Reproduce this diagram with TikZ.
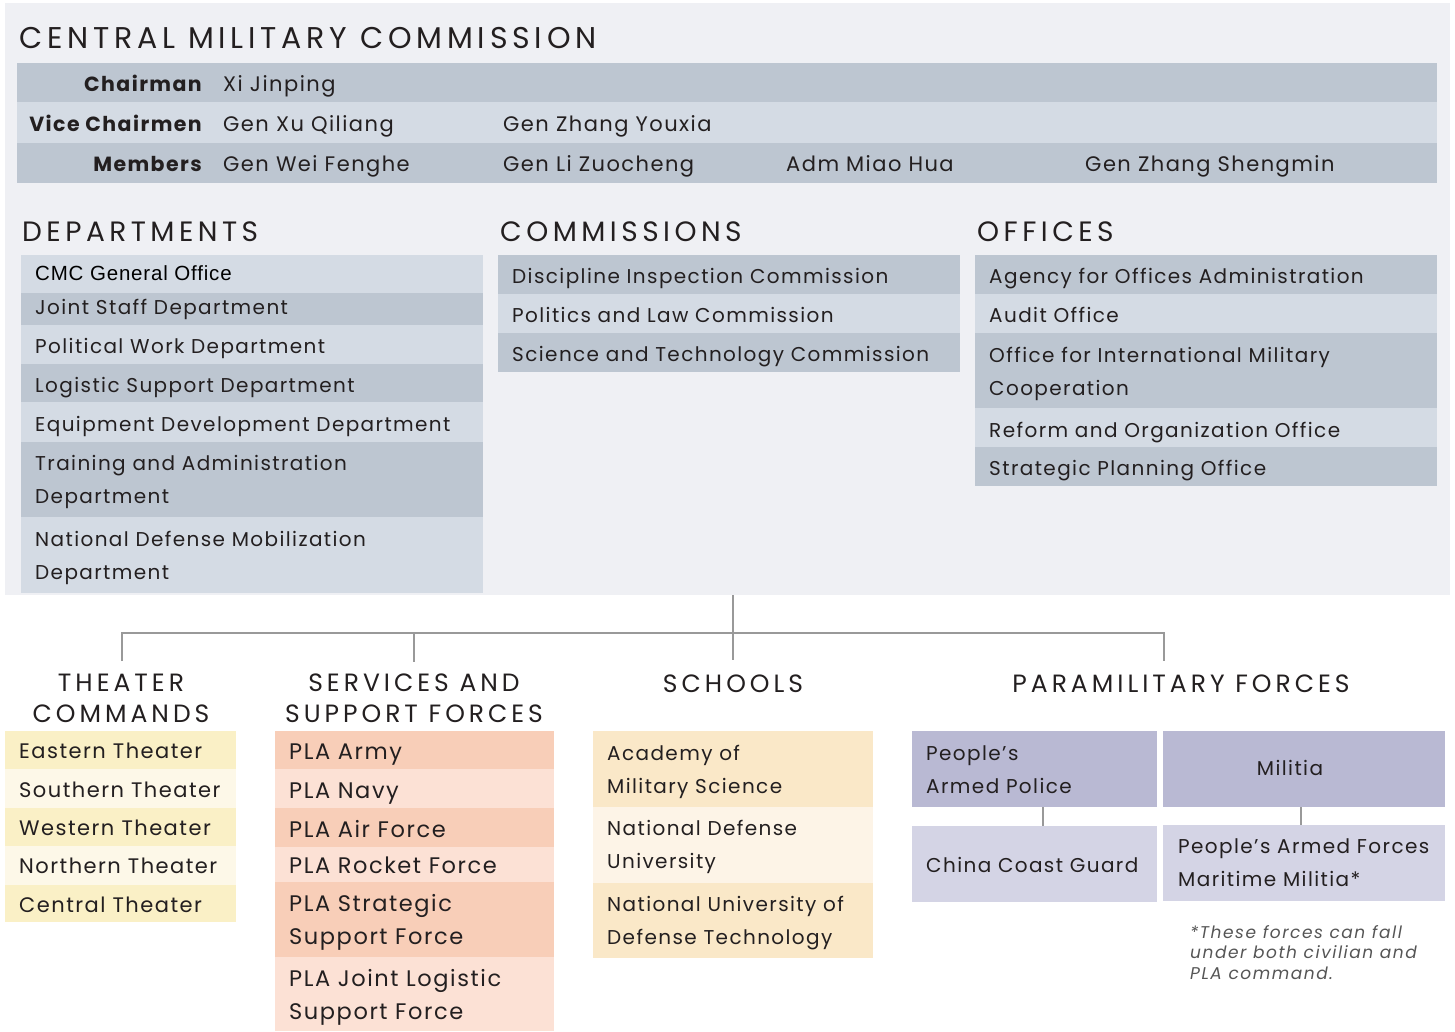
\documentclass[tikz,border=0pt]{standalone}
\usepackage{fontspec}
\setmainfont{Poppins}
\newfontfamily\bodyfont[LetterSpace=7]{Poppins}
\newfontfamily\headfont[LetterSpace=16]{Poppins}
\newfontfamily\arialfont[LetterSpace=4]{Liberation Sans}
\newfontfamily\notefont[LetterSpace=9]{Poppins}
\definecolor{ink}{HTML}{231F20}
\definecolor{panelbg}{HTML}{EFF0F4}
\definecolor{bgdark}{HTML}{BDC6D1}
\definecolor{bglight}{HTML}{D4DBE4}
\definecolor{ydark}{HTML}{FAF0C6}
\definecolor{ylight}{HTML}{FDF8E8}
\definecolor{odark}{HTML}{F8CEB8}
\definecolor{olight}{HTML}{FCE1D5}
\definecolor{sdark}{HTML}{FAE8C8}
\definecolor{slight}{HTML}{FDF4E7}
\definecolor{pdark}{HTML}{B9B9D3}
\definecolor{plight}{HTML}{D4D4E5}
\definecolor{conncol}{HTML}{999999}
\definecolor{notecol}{HTML}{555555}
\begin{document}
\begin{tikzpicture}[x=1pt,y=-1pt,
  box/.style={anchor=north west, inner sep=0pt, outer sep=0pt, draw=none},
  txt/.style={anchor=base west, inner sep=0pt, align=left, text=ink,
    font=\bodyfont\fontsize{20}{32.5}\selectfont},
  ctxt/.style={txt, font=\bodyfont\fontsize{21}{32.5}\selectfont},
  thtxt/.style={txt, font=\bodyfont\fontsize{21}{32.5}\selectfont},
  svtxt/.style={txt, font=\bodyfont\fontsize{22.5}{32.5}\selectfont},
  lbl/.style={anchor=base east, inner sep=0pt, text=ink,
    font=\bfseries\bodyfont\fontsize{20.5}{24}\selectfont},
  head/.style={anchor=base west, inner sep=0pt, text=ink,
    font=\headfont\fontsize{28}{31.5}\selectfont},
  chead/.style={anchor=base, inner sep=0pt, align=center, text=ink,
    font=\headfont\fontsize{25}{31}\selectfont},
  conn/.style={draw=conncol, line width=2pt}
]
\useasboundingbox (0,0) rectangle (1455,1031);
\fill[white] (0,0) rectangle (1455,1031);
% panel
\node[box, fill=panelbg, minimum width=1445pt, minimum height=592pt] (panel) at (5,3) {};

% CMC
\node[head, font=\headfont\fontsize{30}{32}\selectfont] (cmctitle) at (19,48) {CENTRAL MILITARY COMMISSION};
\node[box, fill=bgdark, minimum width=1420pt, minimum height=39pt] (cr1) at (17,63) {};
\node[box, fill=bglight, minimum width=1420pt, minimum height=41pt] (cr2) at (17,102) {};
\node[box, fill=bgdark, minimum width=1420pt, minimum height=40pt] (cr3) at (17,143) {};
\node[lbl] (lchair) at (202,91) {Chairman};
\node[lbl] (lvice) at (202,131) {Vice Chairmen};
\node[lbl] (lmem) at (202,171) {Members};
\node[ctxt] (xi) at (223,91) {Xi Jinping};
\node[ctxt] (xu) at (223,131) {Gen Xu Qiliang};
\node[ctxt] (zy) at (503,131) {Gen Zhang Youxia};
\node[ctxt] (wei) at (223,171) {Gen Wei Fenghe};
\node[ctxt] (li) at (503,171) {Gen Li Zuocheng};
\node[ctxt] (miao) at (786,171) {Adm Miao Hua};
\node[ctxt] (zs) at (1085,171) {Gen Zhang Shengmin};

% Departments
\node[head] (hdep) at (22,241) {DEPARTMENTS};
\node[box, fill=bglight, minimum width=462pt, minimum height=38pt] (d1) at (21,255) {};
\node[box, fill=bgdark, minimum width=462pt, minimum height=32pt] (d2) at (21,293) {};
\node[box, fill=bglight, minimum width=462pt, minimum height=39pt] (d3) at (21,325) {};
\node[box, fill=bgdark, minimum width=462pt, minimum height=38pt] (d4) at (21,364) {};
\node[box, fill=bglight, minimum width=462pt, minimum height=40pt] (d5) at (21,402) {};
\node[box, fill=bgdark, minimum width=462pt, minimum height=75pt] (d6) at (21,442) {};
\node[box, fill=bglight, minimum width=462pt, minimum height=76pt] (d7) at (21,517) {};
\node[anchor=base west, inner sep=0pt, text=black, font=\arialfont\fontsize{20.5}{24}\selectfont] (td1) at (35,280) {CMC General Office};
\node[txt] (td2) at (35,314) {Joint Staff Department};
\node[txt] (td3) at (35,353) {Political Work Department};
\node[txt] (td4) at (35,392) {Logistic Support Department};
\node[txt] (td5) at (35,431) {Equipment Development Department};
\node[txt] (td6) at (35,503) {Training and Administration\\Department};
\node[txt] (td7) at (35,579) {National Defense Mobilization\\Department};

% Commissions
\node[head] (hcom) at (500,241) {COMMISSIONS};
\node[box, fill=bgdark, minimum width=462pt, minimum height=39pt] (c1) at (498,255) {};
\node[box, fill=bglight, minimum width=462pt, minimum height=39pt] (c2) at (498,294) {};
\node[box, fill=bgdark, minimum width=462pt, minimum height=39pt] (c3) at (498,333) {};
\node[txt] (tc1) at (512,283) {Discipline Inspection Commission};
\node[txt] (tc2) at (512,322) {Politics and Law Commission};
\node[txt] (tc3) at (512,361) {Science and Technology Commission};

% Offices
\node[head] (hoff) at (977,241) {OFFICES};
\node[box, fill=bgdark, minimum width=462pt, minimum height=39pt] (o1) at (975,255) {};
\node[box, fill=bglight, minimum width=462pt, minimum height=39pt] (o2) at (975,294) {};
\node[box, fill=bgdark, minimum width=462pt, minimum height=75pt] (o3) at (975,333) {};
\node[box, fill=bglight, minimum width=462pt, minimum height=39pt] (o4) at (975,408) {};
\node[box, fill=bgdark, minimum width=462pt, minimum height=39pt] (o5) at (975,447) {};
\node[txt] (to1) at (989,283) {Agency for Offices Administration};
\node[txt] (to2) at (989,322) {Audit Office};
\node[txt] (to3) at (989,395) {Office for International Military\\Cooperation};
\node[txt] (to4) at (989,437) {Reform and Organization Office};
\node[txt] (to5) at (989,475) {Strategic Planning Office};

% Lower headings
\node[chead] (hth) at (121,722) {THEATER\\COMMANDS};
\node[chead] (hsv) at (414,722) {SERVICES AND\\SUPPORT FORCES};
\node[chead] (hsc) at (733,692) {SCHOOLS};
\node[chead] (hpm) at (1181,692) {PARAMILITARY FORCES};

% Connectors
\coordinate (hub) at (733,595);
\coordinate (jL) at (122,633);
\coordinate (jS) at (414,633);
\coordinate (jC) at (733,633);
\coordinate (jR) at (1164,633);
\coordinate (eT) at (122,661);
\coordinate (eS) at (414,662);
\coordinate (eC) at (733,660);
\coordinate (eP) at (1164,661);
\draw[conn] (eT) -- (jL) -- (jR) -- (eP);
\draw[conn] (jS) -- (eS);
\draw[conn] (hub) -- (eC);

% Theater commands
\node[box, fill=ydark, minimum width=231pt, minimum height=38pt] (t1) at (5,731) {};
\node[box, fill=ylight, minimum width=231pt, minimum height=39pt] (t2) at (5,769) {};
\node[box, fill=ydark, minimum width=231pt, minimum height=38pt] (t3) at (5,808) {};
\node[box, fill=ylight, minimum width=231pt, minimum height=39pt] (t4) at (5,846) {};
\node[box, fill=ydark, minimum width=231pt, minimum height=37pt] (t5) at (5,885) {};
\node[thtxt] (tt1) at (19,758) {Eastern Theater};
\node[thtxt] (tt2) at (19,797) {Southern Theater};
\node[thtxt] (tt3) at (19,835) {Western Theater};
\node[thtxt] (tt4) at (19,873) {Northern Theater};
\node[thtxt] (tt5) at (19,912) {Central Theater};

% Services
\node[box, fill=odark, minimum width=279pt, minimum height=38pt] (s1) at (275,731) {};
\node[box, fill=olight, minimum width=279pt, minimum height=39pt] (s2) at (275,769) {};
\node[box, fill=odark, minimum width=279pt, minimum height=39pt] (s3) at (275,808) {};
\node[box, fill=olight, minimum width=279pt, minimum height=35pt] (s4) at (275,847) {};
\node[box, fill=odark, minimum width=279pt, minimum height=75pt] (s5) at (275,882) {};
\node[box, fill=olight, minimum width=279pt, minimum height=74pt] (s6) at (275,957) {};
\node[svtxt] (ts1) at (289,759) {PLA Army};
\node[svtxt] (ts2) at (289,798) {PLA Navy};
\node[svtxt] (ts3) at (289,837) {PLA Air Force};
\node[svtxt] (ts4) at (289,873) {PLA Rocket Force};
\node[svtxt] (ts5) at (289,944) {PLA Strategic\\Support Force};
\node[svtxt] (ts6) at (289,1019) {PLA Joint Logistic\\Support Force};

% Schools
\node[box, fill=sdark, minimum width=280pt, minimum height=76pt] (k1) at (593,731) {};
\node[box, fill=slight, minimum width=280pt, minimum height=76pt] (k2) at (593,807) {};
\node[box, fill=sdark, minimum width=280pt, minimum height=75pt] (k3) at (593,883) {};
\node[txt] (tk1) at (607,793) {Academy of\\Military Science};
\node[txt] (tk2) at (607,868) {National Defense\\University};
\node[txt] (tk3) at (607,944) {National University of\\Defense Technology};

% Paramilitary
\node[box, fill=pdark, minimum width=245pt, minimum height=76pt] (pap) at (912,731) {};
\node[box, fill=pdark, minimum width=282pt, minimum height=76pt] (mil) at (1163,731) {};
\node[box, fill=plight, minimum width=245pt, minimum height=76pt] (ccg) at (912,826) {};
\node[box, fill=plight, minimum width=282pt, minimum height=76pt] (pafmm) at (1163,825) {};
\node[txt] (tpap) at (926,793) {People’s\\Armed Police};
\node[txt, anchor=base] (tmil) at (1290,775) {Militia};
\node[txt] (tccg) at (926,872) {China Coast Guard};
\node[txt] (tpafmm) at (1178,886) {People’s Armed Forces\\Maritime Militia*};
\coordinate (cx1) at (1043,0);
\coordinate (cx2) at (1301,0);
\draw[conn] (pap.south -| cx1) -- (ccg.north -| cx1);
\draw[conn] (mil.south -| cx2) -- (pafmm.north -| cx2);

\node[anchor=base west, inner sep=0pt, align=left, text=notecol,
  font=\itshape\notefont\fontsize{17}{20.5}\selectfont] (note) at (1190,979)
  {*These forces can fall\\under both civilian and\\PLA command.};
\end{tikzpicture}
\end{document}
